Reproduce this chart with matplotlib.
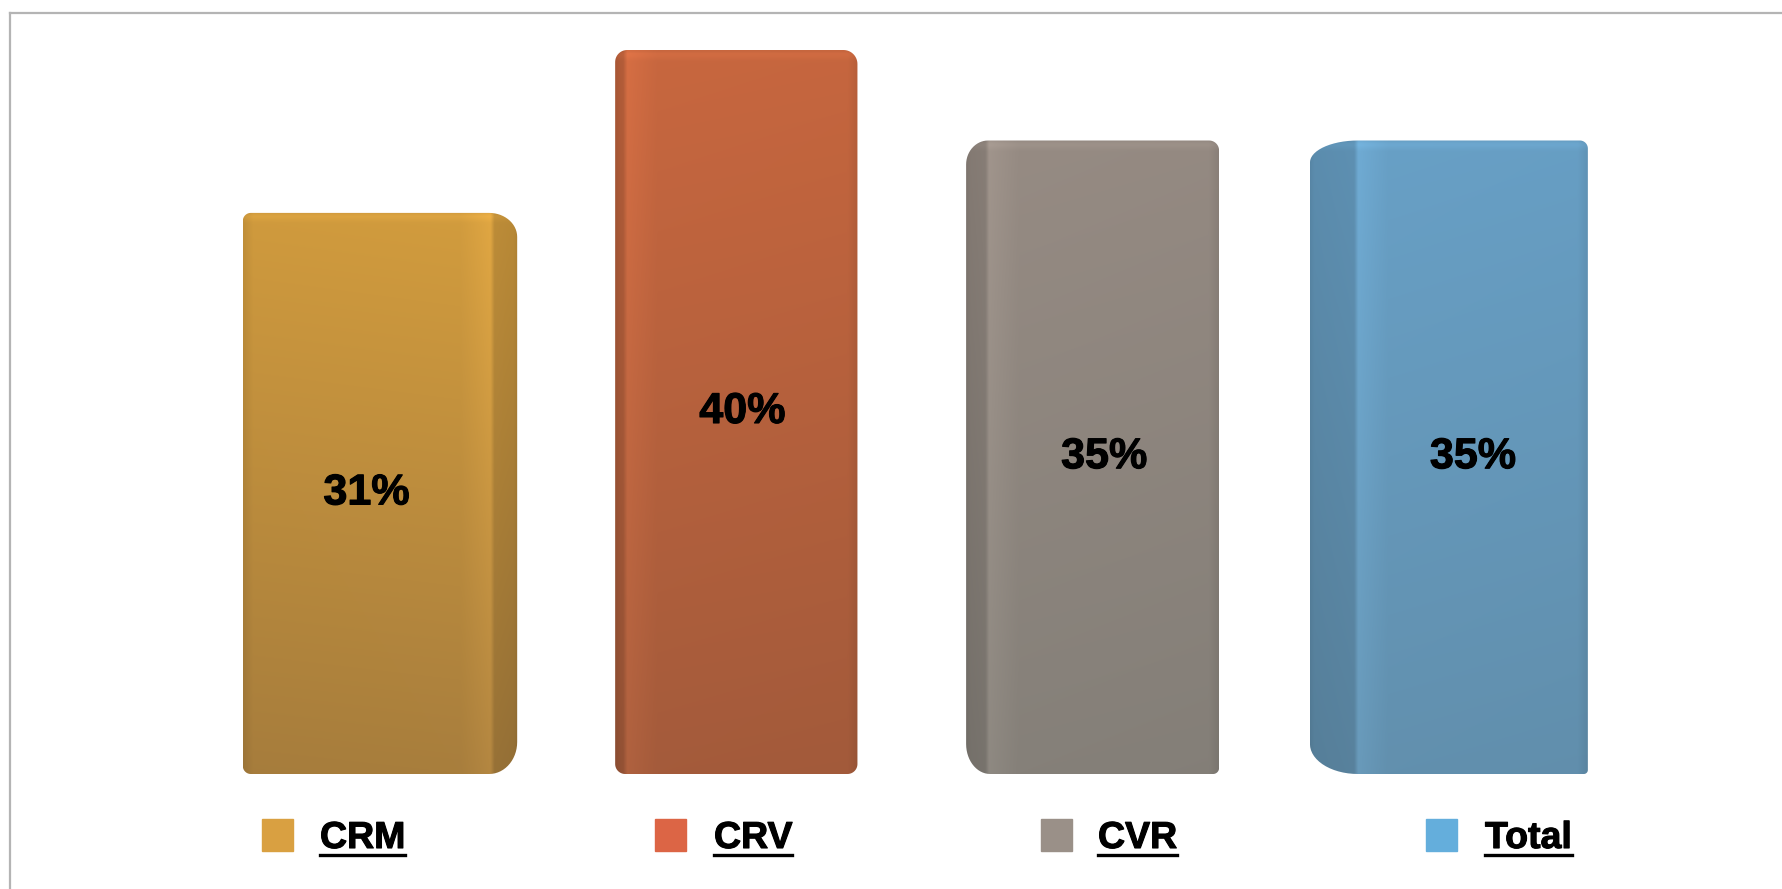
import numpy as np
import matplotlib.pyplot as plt
from matplotlib.path import Path
from matplotlib.patches import PathPatch, Rectangle
from matplotlib.lines import Line2D
from matplotlib.colors import to_rgb
import matplotlib.patheffects as pe

plt.rcParams['font.family'] = ['Liberation Sans', 'DejaVu Sans']

categories = ['CRM', 'CRV', 'CVR', 'Total']
values = [31, 40, 35, 35]
value_labels = ['31%', '40%', '35%', '35%']

top_colors = ['#d29c3e', '#c8673f', '#968b83', '#68a0c6']
bottom_colors = ['#a87e3d', '#a45b3b', '#858079', '#6290ae']
swatch_colors = ['#d9a041', '#dc6545', '#9a9088', '#64aedc']

W, H = 1782, 889
SX, SY = 356.3, 18.1  # pixels per x unit / per percent


def rounded_path(x0, x1, y0, y1, radii):
    # radii: (rx, ry) in pixels for bottom-left, bottom-right, top-right, top-left
    (bl, br, tr, tl) = radii
    pts = []
    def arc(cx, cy, r, a0, a1):
        a = np.radians(np.linspace(a0, a1, 16))
        rx, ry = r[0] / SX, r[1] / SY
        for ang in a:
            pts.append((cx + rx * np.cos(ang), cy + ry * np.sin(ang)))
    arc(x0 + bl[0] / SX, y0 + bl[1] / SY, bl, 180, 270)
    arc(x1 - br[0] / SX, y0 + br[1] / SY, br, 270, 360)
    arc(x1 - tr[0] / SX, y1 - tr[1] / SY, tr, 0, 90)
    arc(x0 + tl[0] / SX, y1 - tl[1] / SY, tl, 90, 180)
    pts.append(pts[0])
    codes = [Path.MOVETO] + [Path.LINETO] * (len(pts) - 2) + [Path.CLOSEPOLY]
    return Path(pts, codes)


def shaded(top, bottom, w_px, h_px, side, side_px):
    nr, nc = 300, 300
    t = np.linspace(0, 1, nr)[:, None, None]
    col = np.array(to_rgb(top)) * (1 - t) + np.array(to_rgb(bottom)) * t
    px = np.linspace(0, w_px, nc)
    s = side_px
    if side == 'right':
        # mirror so the side face is always handled on the left
        px_l = w_px - px
    else:
        px_l = px
    f = np.interp(px_l,
                  [0, 4, s - 4, s, s + 8, s + 30, w_px - 10, w_px],
                  [0.84, 0.88, 0.90, 1.07, 1.05, 1.0, 0.99, 0.92])
    img = col * f[None, :, None]
    rows = np.linspace(0, h_px, nr)
    img *= np.interp(rows, [0, 3, 10], [1.0, 1.06, 1.0])[:, None, None]
    return np.clip(img, 0, 1)


fig = plt.figure(figsize=(W / 100, H / 100), dpi=100)
ax = fig.add_axes([0, 0, 1, 1])
ax.axis('off')

x = np.arange(len(categories))
widths = [0.77, 0.68, 0.71, 0.78]
sides = ['right', 'left', 'left', 'left']
side_px = [27, 12, 23, 48]
corner_px = [
    [(8, 8), (28, 32), (28, 24), (8, 8)],
    [(10, 10), (10, 10), (14, 14), (12, 12)],
    [(24, 30), (6, 6), (10, 10), (22, 24)],
    [(48, 30), (4, 4), (8, 8), (48, 22)],
]

bars = ax.bar(x, values, width=widths, color='none', edgecolor='none')

for i, bar in enumerate(bars):
    x0 = bar.get_x()
    x1 = x0 + bar.get_width()
    h = bar.get_height()
    w_px = bar.get_width() * SX
    h_px = h * SY
    img = shaded(top_colors[i], bottom_colors[i], w_px, h_px, sides[i], side_px[i])
    im = ax.imshow(img, extent=(x0, x1, 0, h), aspect='auto', zorder=2,
                   interpolation='bilinear')
    patch = PathPatch(rounded_path(x0, x1, 0, h, corner_px[i]),
                      facecolor='none', edgecolor='none')
    ax.add_patch(patch)
    im.set_clip_path(patch)

    # value label sits on the front face
    shift = side_px[i] / 2 / SX
    cx = bar.get_x() + bar.get_width() / 2 + (-shift if sides[i] == 'right' else shift)
    ax.text(cx, h / 2, value_labels[i], ha='center', va='center', fontsize=31,
            fontweight='bold', color='black', zorder=3,
            path_effects=[pe.withStroke(linewidth=0.8, foreground='black')])

ax.set_xlim(-380 / SX, (W - 380) / SX)
ax.set_ylim(-115 / SY, (H - 115) / SY)

# frame (top and left edges only)
fig.add_artist(Line2D([10 / W, 1], [1 - 13 / H, 1 - 13 / H], transform=fig.transFigure,
                      color='#b4b4b4', lw=1.6))
fig.add_artist(Line2D([10 / W, 10 / W], [1 - 13 / H, 0], transform=fig.transFigure,
                      color='#b4b4b4', lw=1.6))

# legend row
swatch_x = [262, 655, 1041, 1426]
text_x = [320, 714, 1098, 1485]
texts = []
for i, cat in enumerate(categories):
    fig.add_artist(Rectangle((swatch_x[i] / W, 1 - 851 / H), 31 / W, 32 / H,
                             transform=fig.transFigure, color=swatch_colors[i]))
    t = fig.text(text_x[i] / W, 1 - 848 / H, cat, fontsize=27, fontweight='bold',
                 va='baseline', ha='left', color='black',
                 path_effects=[pe.withStroke(linewidth=0.8, foreground='black')])
    texts.append(t)

fig.canvas.draw()
for t in texts:
    bb = t.get_window_extent()
    fig.add_artist(Line2D([bb.x0 / W, bb.x1 / W], [1 - 855 / H, 1 - 855 / H],
                          transform=fig.transFigure, color='black', lw=2.4))

fig.savefig('out.png', dpi=100)
